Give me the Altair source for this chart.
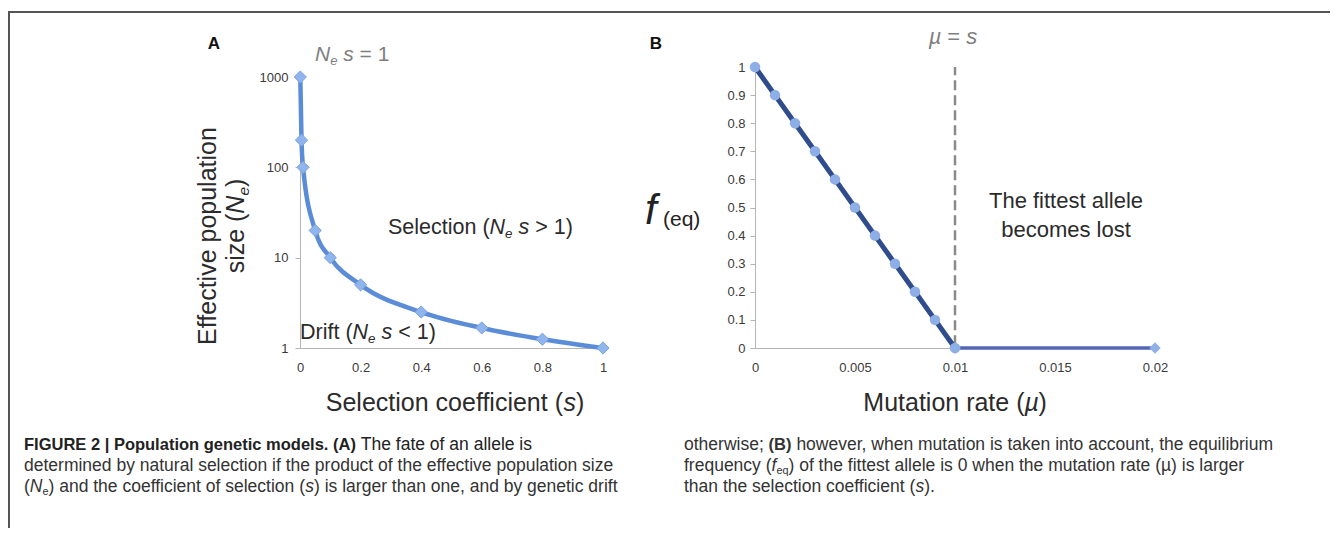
import altair as alt
import pandas as pd

# ---------------- data ----------------
# Panel A: N_e * s = 1
sel_coef = [0.001, 0.005, 0.01, 0.05, 0.1, 0.2, 0.4, 0.6, 0.8, 1.0]
ne_size = [1000, 200, 100, 20, 10, 5, 2.5, 1.667, 1.25, 1.0]

# Panel B: equilibrium frequency vs mutation rate
mut_rate = [0.0, 0.001, 0.002, 0.003, 0.004, 0.005, 0.006, 0.007, 0.008, 0.009, 0.010]
f_eq = [1.0, 0.9, 0.8, 0.7, 0.6, 0.5, 0.4, 0.3, 0.2, 0.1, 0.0]
mut_rate_lost = [0.010, 0.020]
f_eq_lost = [0.0, 0.0]
mu_equals_s = [0.01]
mu_line_span = [0.01, 1.0]

# tick labels
a_x_ticks = [0, 0.2, 0.4, 0.6, 0.8, 1]
a_y_ticks = [1, 10, 100, 1000]
b_x_ticks = [0, 0.005, 0.01, 0.015, 0.02]
b_y_ticks = [0, 0.1, 0.2, 0.3, 0.4, 0.5, 0.6, 0.7, 0.8, 0.9, 1]

# ---------------- layout ----------------
W, H = 1322, 520
M = 8
FONT = "Liberation Sans"


def px(v):
    return v - M


A_X, A_Y = (300, 603), (348, 77)
B_X, B_Y = (755, 1155), (348, 67)

sc_ax = alt.Scale(domain=[0, 1], range=[px(A_X[0]), px(A_X[1])], nice=False)
sc_ay = alt.Scale(type="log", domain=[1, 1000], range=[px(A_Y[0]), px(A_Y[1])], nice=False)
sc_bx = alt.Scale(domain=[0, 0.02], range=[px(B_X[0]), px(B_X[1])], nice=False)
sc_by = alt.Scale(domain=[0, 1], range=[px(B_Y[0]), px(B_Y[1])], nice=False)

axis_style = dict(grid=False, domainColor="#b4b4b4", domainWidth=1, tickColor="#b4b4b4",
                  tickSize=5, labelFont=FONT, labelFontSize=13, labelColor="#3a3a3a",
                  title=None, labelFlush=False, labelOverlap=False)

ax_a_x = alt.Axis(values=a_x_ticks, format=".1~f", orient="bottom", offset=-(H - px(A_Y[0])),
                  ticks=False, labelPadding=13, **axis_style)
ax_a_y = alt.Axis(values=a_y_ticks, format="d", orient="left", offset=-px(A_X[0]),
                  labelPadding=7, **axis_style)
ax_b_x = alt.Axis(values=b_x_ticks, format="~g", orient="bottom", offset=-(H - px(B_Y[0])),
                  ticks=False, labelPadding=13, **axis_style)
ax_b_y = alt.Axis(values=b_y_ticks, format=".1~f", orient="left", offset=-px(B_X[0]),
                  labelPadding=5, **axis_style)

df_a = pd.DataFrame({"s": sel_coef, "ne": ne_size})
df_b = pd.DataFrame({"mu": mut_rate, "f": f_eq})
df_b2 = pd.DataFrame({"mu": mut_rate_lost, "f": f_eq_lost})
df_rule = pd.DataFrame({"mu": mu_equals_s, "f0": [mu_line_span[0]], "f1": [mu_line_span[1]]})

xa = alt.X("s:Q", scale=sc_ax, axis=ax_a_x)
ya = alt.Y("ne:Q", scale=sc_ay, axis=ax_a_y)
line_a = alt.Chart(df_a).mark_line(interpolate="monotone", color="#5B8CD7", strokeWidth=4.5).encode(x=xa, y=ya)
pts_a = alt.Chart(df_a).mark_point(shape="diamond", filled=True, size=150, color="#90B4EC",
                                   opacity=1, stroke="#7BA2E4", strokeWidth=1).encode(x=xa, y=ya)
panel_a = alt.layer(line_a, pts_a)

xb = alt.X("mu:Q", scale=sc_bx, axis=ax_b_x)
yb = alt.Y("f:Q", scale=sc_by, axis=ax_b_y)
rule_b = alt.Chart(df_rule).mark_rule(color="#8a8a8a", strokeDash=[10, 5], strokeWidth=2.5).encode(
    x=xb, y=alt.Y("f0:Q", scale=sc_by, axis=ax_b_y), y2="f1:Q")
line_b2 = alt.Chart(df_b2).mark_line(color="#5566B5", strokeWidth=3.5).encode(x=xb, y=yb)
pts_b2 = alt.Chart(df_b2).mark_point(shape="diamond", filled=True, size=130, color="#90B0E8",
                                     opacity=1).encode(x=xb, y=yb)
line_b = alt.Chart(df_b).mark_line(color="#2F4C8C", strokeWidth=5).encode(x=xb, y=yb)
pts_b = alt.Chart(df_b).mark_point(shape="circle", filled=True, size=110, color="#8DAEE6",
                                   opacity=1).encode(x=xb, y=yb)
panel_b = alt.layer(rule_b, line_b2, pts_b2, line_b, pts_b)

# ---------------- text helpers (Arial / Liberation Sans metrics) ----------------
REG = {" ": 278, "!": 278, "(": 333, ")": 333, ",": 278, "-": 333, ".": 278, ";": 278, ":": 278,
       "<": 584, "=": 584, ">": 584, "|": 260, "\u00b5": 556,
       "A": 667, "B": 667, "C": 722, "D": 722, "E": 667, "F": 611, "G": 778, "H": 722, "I": 278,
       "J": 500, "K": 667, "L": 556, "M": 833, "N": 722, "O": 778, "P": 667, "Q": 778, "R": 722,
       "S": 667, "T": 611, "U": 722, "V": 667, "W": 944, "X": 667, "Y": 667, "Z": 611,
       "a": 556, "b": 556, "c": 500, "d": 556, "e": 556, "f": 278, "g": 556, "h": 556, "i": 222,
       "j": 222, "k": 500, "l": 222, "m": 833, "n": 556, "o": 556, "p": 556, "q": 556, "r": 333,
       "s": 500, "t": 278, "u": 556, "v": 500, "w": 722, "x": 500, "y": 500, "z": 500}
BOLD = dict(REG)
BOLD.update({"|": 280, "A": 722, "B": 722, "C": 722, "I": 278, "R": 722, "U": 722, "a": 556,
             "b": 611, "c": 556, "d": 611, "g": 611, "h": 611, "i": 278, "l": 278, "m": 889,
             "n": 611, "o": 611, "p": 611, "q": 611, "r": 389, "s": 556, "t": 333, "u": 611})


def tw(s, size, bold=False):
    t = BOLD if bold else REG
    return sum(t.get(c, 556) for c in s) * size / 1000.0


anchor = pd.DataFrame({"k": [0]})


def label(text, x, y, size, weight="normal", style="normal", color="#333333", align="left", angle=0):
    return alt.Chart(anchor).mark_text(
        text=text, font=FONT, fontSize=size, fontWeight=weight, fontStyle=style, color=color,
        align=align, baseline="middle", angle=angle).encode(x=alt.value(px(x)), y=alt.value(px(y)))


def rich(parts, x, y, size, color="#333333", align="left", vertical=False, bold_size=None):
    specs = []
    for text, kind in parts:
        if kind in ("sub", "subi"):
            sz = size * 0.62
        elif kind == "b" and bold_size:
            sz = bold_size
        else:
            sz = size
        bold = kind == "b"
        specs.append((text, kind, sz, bold, tw(text, sz, bold)))
    total = sum(s[4] for s in specs)
    cur = -total / 2 if align == "center" else 0
    out = []
    for text, kind, sz, bold, w in specs:
        lead = len(text) - len(text.lstrip(" "))
        core = text.strip(" ")
        cur += tw(" " * lead, sz, bold)
        off = size * 0.3 if kind in ("sub", "subi") else 0
        style = "italic" if kind in ("i", "subi") else "normal"
        weight = "bold" if bold else "normal"
        if vertical:
            out.append(label(core, x + off, y - cur, sz, weight, style, color, "left", 270))
        else:
            out.append(label(core, x + cur, y + off, sz, weight, style, color, "left", 0))
        cur += tw(core, sz, bold) + tw(" " * (len(text) - lead - len(core)), sz, bold)
    return out


TXT = "#2b2b2b"
texts = []
# panel letters
texts.append(label("A", 214, 44, 17, weight="bold", color="#111111", align="center"))
texts.append(label("B", 656, 44, 17, weight="bold", color="#111111", align="center"))
# panel A annotations
texts += rich([("N", "i"), ("e", "subi"), (" s", "i"), (" = 1", "n")], 315, 55, 21, "#7f7f7f")
texts += rich([("Selection (", "n"), ("N", "i"), ("e", "subi"), (" s", "i"), (" > 1)", "n")], 388, 228, 21.5, TXT)
texts += rich([("Drift (", "n"), ("N", "i"), ("e", "subi"), (" s", "i"), (" < 1)", "n")], 300, 333, 21.5, TXT)
texts += rich([("Selection coefficient (", "n"), ("s", "i"), (")", "n")], 455, 403, 25, TXT, align="center")
texts.append(label("Effective population", 208, 236, 25, color=TXT, angle=270, align="center"))
texts += rich([("size (", "n"), ("N", "i"), ("e", "subi"), (")", "n")], 236, 226, 25, TXT,
              align="center", vertical=True)
# panel B annotations
texts += rich([("\u00b5", "i"), (" = ", "n"), ("s", "i")], 953, 37, 22, "#7f7f7f", align="center")
texts.append(label("The fittest allele", 1066, 201, 22, color=TXT, align="center"))
texts.append(label("becomes lost", 1066, 230, 22, color=TXT, align="center"))
texts += rich([("Mutation rate (", "n"), ("\u00b5", "i"), (")", "n")], 955, 403, 25, TXT, align="center")
texts.append(label("f", 645, 211, 42, style="italic", color="#222222"))
texts.append(label("(eq)", 663, 220, 21, color="#222222"))

# caption
CAP, CAPB = 17.5, 16.5
texts += rich([("FIGURE 2 | Population genetic models. (A)", "b"), (" The fate of an allele is", "n")],
              24, 445, CAP, "#222222", bold_size=CAPB)
texts += rich([("determined by natural selection if the product of the effective population size", "n")],
              24, 466, CAP, "#333333")
texts += rich([("(", "n"), ("N", "i"), ("e", "sub"), (") and the coefficient of selection (", "n"),
               ("s", "i"), (") is larger than one, and by genetic drift", "n")], 24, 487, CAP, "#333333")
texts += rich([("otherwise; ", "n"), ("(B)", "b"),
               (" however, when mutation is taken into account, the equilibrium", "n")],
              684, 445, CAP, "#333333", bold_size=CAPB)
texts += rich([("frequency (", "n"), ("f", "i"), ("eq", "sub"),
               (") of the fittest allele is 0 when the mutation rate (\u00b5) is larger", "n")],
              684, 466, CAP, "#333333")
texts += rich([("than the selection coefficient (", "n"), ("s", "i"), (").", "n")], 684, 487, CAP, "#333333")

# frame (top and left edges of the figure box)
frame_top = alt.Chart(anchor).mark_rule(color="#555555", strokeWidth=2).encode(
    x=alt.value(0), x2=alt.value(W), y=alt.value(px(12)))
frame_left = alt.Chart(anchor).mark_rule(color="#555555", strokeWidth=2).encode(
    x=alt.value(1), y=alt.value(px(12)), y2=alt.value(H))

chart = alt.layer(panel_a, panel_b, frame_top, frame_left, *texts).resolve_scale(
    x="independent", y="independent"
).properties(
    width=W, height=H, autosize=alt.AutoSizeParams(type="none"), padding=0, background="white"
).configure_view(stroke=None)

chart.save("out.html", embed_options={"renderer": "svg", "actions": False})
